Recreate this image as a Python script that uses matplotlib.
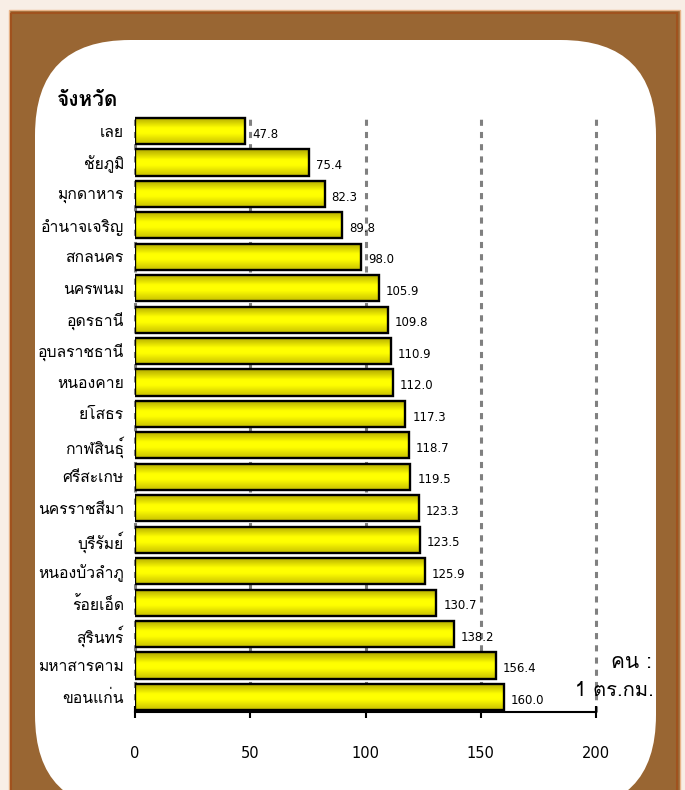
import matplotlib
matplotlib.use("Agg")
import matplotlib.pyplot as plt
import numpy as np
from matplotlib import font_manager
from matplotlib.ft2font import FT2Font
from matplotlib.patches import FancyBboxPatch, Rectangle
from matplotlib.colors import LinearSegmentedColormap

# ข้อมูล: ความหนาแน่นประชากร (คน : 1 ตร.กม.)
provinces = ["เลย", "ชัยภูมิ", "มุกดาหาร", "อำนาจเจริญ", "สกลนคร", "นครพนม",
             "อุดรธานี", "อุบลราชธานี", "หนองคาย", "ยโสธร", "กาฬสินธุ์", "ศรีสะเกษ",
             "นครราชสีมา", "บุรีรัมย์", "หนองบัวลำภู", "ร้อยเอ็ด", "สุรินทร์",
             "มหาสารคาม", "ขอนแก่น"]
density = [47.8, 75.4, 82.3, 89.8, 98.0, 105.9, 109.8, 110.9, 112.0, 117.3,
           118.7, 119.5, 123.3, 123.5, 125.9, 130.7, 138.2, 156.4, 160.0]
xticks = [0, 50, 100, 150, 200]

# หาฟอนต์ที่มีอักษรไทย
thai_font = None
for path in sorted(font_manager.findSystemFonts()):
    try:
        if 0x0E08 in FT2Font(path).get_charmap():
            thai_font = font_manager.FontProperties(fname=path).get_name()
            if "Bold" not in path:
                break
    except Exception:
        pass
fams = [thai_font, "DejaVu Sans"] if thai_font else ["DejaVu Sans"]
plt.rcParams["font.family"] = fams

fig = plt.figure(figsize=(6.85, 7.9), dpi=100)
fig.patch.set_facecolor("#F8EEE6")

# พื้นหลังกรอบสีน้ำตาล (พิกเซล)
bg = fig.add_axes([0, 0, 1, 1])
bg.set_xlim(0, 685)
bg.set_ylim(790, 0)
bg.axis("off")
bg.add_patch(Rectangle((9, 10), 671, 800, facecolor="#996633",
                       edgecolor="#E8B489", linewidth=1.0))
bg.add_patch(Rectangle((11.5, 12.5), 666, 800, facecolor="none",
                       edgecolor="#A0521E", linewidth=1.5))
bg.add_patch(FancyBboxPatch((35 + 95, 40 + 95), 621 - 190, 770 - 190,
                            boxstyle="round,pad=95", facecolor="white",
                            edgecolor="none"))

ax = fig.add_axes([135 / 685, (790 - 712) / 790, (596 - 135) / 685, (712 - 115) / 790])
ax.set_facecolor("none")
y = np.arange(len(provinces))
bars = ax.barh(y, density, height=0.83, color="#FFFF00", edgecolor="black",
               linewidth=1.7, zorder=3)

# ไล่เฉดสีแท่งแบบทรงกระบอก
cmap = LinearSegmentedColormap.from_list("cyl", [(0, "#B0A800"), (0.4, "#FFFF00"),
                                                 (0.6, "#FFFF00"), (1, "#C8C000")])
grad = np.linspace(0, 1, 64).reshape(-1, 1)
for b in bars:
    x0, y0, w, h = b.get_x(), b.get_y(), b.get_width(), b.get_height()
    im = ax.imshow(grad, cmap=cmap, aspect="auto", extent=(x0, x0 + w, y0 + h, y0),
                   zorder=3.5, interpolation="bilinear")
    im.set_clip_path(b)
    b.set_facecolor("none")
    b.set_zorder(4)

for yi, v in zip(y, density):
    ax.text(v + 3, yi + 0.1, f"{v:.1f}", va="center", ha="left", fontsize=8.5,
            family="DejaVu Sans", zorder=5)

ax.set_xlim(0, 200)
ax.set_ylim(18.48, -0.51)
ax.set_xticks(xticks)
ax.set_xticklabels([str(t) for t in xticks], family="DejaVu Sans")
ax.set_yticks(y)
ax.set_yticklabels(provinces, fontsize=11.3)
ax.tick_params(axis="y", length=0, pad=8)
ax.tick_params(axis="x", direction="inout", length=9, width=1.5, pad=20,
               labelsize=10.5)
ax.xaxis.grid(True, linestyle=(0, (2, 2)), color="#808080", linewidth=2.2)
for gl in ax.xaxis.get_gridlines():
    gl.set_clip_on(False)
ax.set_axisbelow(True)
for s in ["top", "right", "left"]:
    ax.spines[s].set_visible(False)
ax.spines["bottom"].set_linewidth(1.5)

fig.text(57 / 685, 1 - 101 / 790, "จังหวัด", fontsize=15, fontweight="bold",
         ha="left", va="center")
fig.text(652 / 685, 1 - 662 / 790, "คน :", fontsize=15, ha="right", va="center")
fig.text(654 / 685, 1 - 690 / 790, "1 ตร.กม.", fontsize=14.5, ha="right", va="center")

fig.savefig("out.png", dpi=100, facecolor=fig.get_facecolor())
